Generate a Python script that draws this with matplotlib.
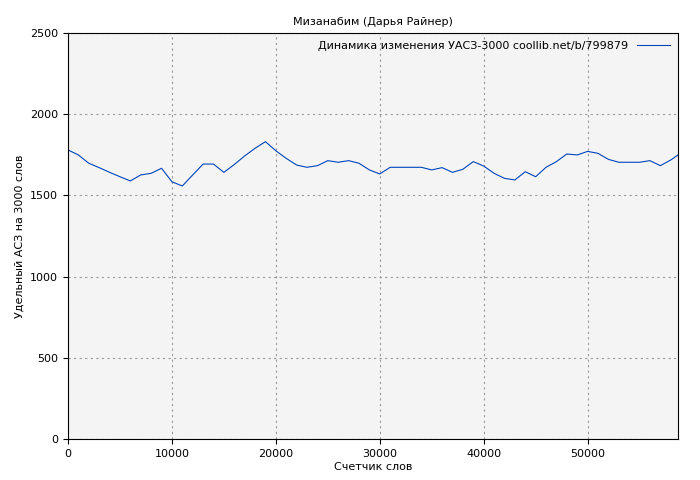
import matplotlib
matplotlib.use("Agg")
import matplotlib.pyplot as plt

words = list(range(0, 59000, 1000)) + [58700]
values = [1780, 1749, 1698, 1671, 1642, 1615, 1589, 1626, 1636, 1667,
          1584, 1558, 1626, 1693, 1693, 1642, 1690, 1743, 1790, 1831,
          1775, 1728, 1687, 1673, 1683, 1714, 1704, 1714, 1698, 1657,
          1632, 1673, 1673, 1673, 1673, 1657, 1671, 1642, 1661, 1708,
          1681, 1636, 1605, 1595, 1646, 1615, 1673, 1708, 1755, 1749,
          1771, 1759, 1722, 1704, 1704, 1704, 1714, 1683, 1718, 1749]

plt.rcParams["font.family"] = "DejaVu Sans"
plt.rcParams["font.size"] = 8

fig = plt.figure(figsize=(7, 4.8), dpi=100)
ax = fig.add_axes([68 / 700, 41 / 480, 610 / 700, 406 / 480])
ax.set_facecolor("#f4f4f4")
ax.plot(words, values, color="#0044bb", linewidth=0.8,
        label="Динамика изменения УАСЗ-3000 coollib.net/b/799879")
ax.set_xlim(0, 58700)
ax.set_ylim(0, 2500)
ax.set_xticks(range(0, 58701, 10000))
ax.set_yticks(range(0, 2501, 500))
ax.grid(True, color="#999999", linestyle=(0, (2, 3)), linewidth=0.8)
ax.set_title("Мизанабим (Дарья Райнер)", fontsize=8)
ax.set_xlabel("Счетчик слов", labelpad=2)
ax.set_ylabel("Удельный АСЗ на 3000 слов")
leg = ax.legend(loc="upper right", frameon=False, markerfirst=False,
                handlelength=3, borderaxespad=0.3)
fig.savefig("out.png")
